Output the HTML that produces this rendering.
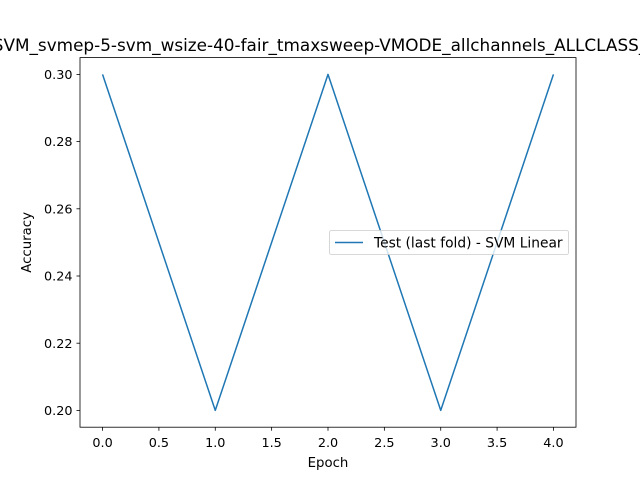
<!DOCTYPE html>
<html><head><meta charset="utf-8"><style>
body{margin:0;background:#fff;}
svg text{font-family:"DejaVu Sans","Liberation Sans",sans-serif;}
</style></head><body>
<svg id="chart" width="640" height="480" xmlns="http://www.w3.org/2000/svg">
<rect width="640" height="480" fill="#fff"/>
<text x="320" y="51" font-size="16.85" text-anchor="middle">SVM_svmep-5-svm_wsize-40-fair_tmaxsweep-VMODE_allchannels_ALLCLASS_</text>
<g id="axes"></g>
<g id="plot"></g>
<rect x="80" y="57.6" width="496" height="369.6" fill="none" stroke="#000" stroke-width="0.8"/>
<g>
<rect x="329.5" y="230.5" width="239" height="24" rx="2" fill="#fff" fill-opacity="0.8" stroke="#ccc" stroke-width="0.8"/>
<line x1="335" y1="242.5" x2="363" y2="242.5" stroke="#1f77b4" stroke-width="1.5"/>
<text x="374" y="247.5" font-size="13.8">Test (last fold) - SVM Linear</text>
</g>
<text x="328" y="467" font-size="13.3" text-anchor="middle">Epoch</text>
<text transform="translate(31,242.4) rotate(-90)" font-size="13.3" text-anchor="middle">Accuracy</text>
</svg>
<script>
const epochs=[0,1,2,3,4];
const accuracy=[0.30,0.20,0.30,0.20,0.30];
const xTicks=[0,0.5,1,1.5,2,2.5,3,3.5,4];
const xTickLabels=["0.0","0.5","1.0","1.5","2.0","2.5","3.0","3.5","4.0"];
const yTicks=[0.20,0.22,0.24,0.26,0.28,0.30];
const yTickLabels=["0.20","0.22","0.24","0.26","0.28","0.30"];
const L=80,R=576,T=57.6,B=427.2,xMin=-0.2,xMax=4.2,yMin=0.195,yMax=0.305;
function sx(v){return L+(v-xMin)/(xMax-xMin)*(R-L);}
function sy(v){return B-(v-yMin)/(yMax-yMin)*(B-T);}
const NS="http://www.w3.org/2000/svg";
const ax=document.getElementById('axes');
function mk(tag,attrs,parent){const e=document.createElementNS(NS,tag);for(const k in attrs)e.setAttribute(k,attrs[k]);parent.appendChild(e);return e;}
xTicks.forEach((t,i)=>{
 const l=mk('line',{x1:sx(t),x2:sx(t),y1:B,y2:B+3.5,stroke:'#000','stroke-width':0.8},ax);
 
 
 const tx=mk('text',{x:sx(t),y:B+20,'font-size':12.8,'text-anchor':'middle'},ax);
 tx.textContent=xTickLabels[i];
 
 
});
yTicks.forEach((t,i)=>{
 const l=mk('line',{x1:L-3.5,x2:L,y1:sy(t),y2:sy(t),stroke:'#000','stroke-width':0.8},ax);
 
 
 const tx=mk('text',{x:L-7.5,y:sy(t)+4.6,'font-size':12.8,'text-anchor':'end'},ax);
 tx.textContent=yTickLabels[i];
 
 
});
const pts=epochs.map((e,i)=>sx(e)+','+sy(accuracy[i])).join(' ');
const pl=mk('polyline',{points:pts,fill:'none',stroke:'#1f77b4','stroke-width':1.5,'stroke-linejoin':'round'},document.getElementById('plot'));


</script>
</body></html>
